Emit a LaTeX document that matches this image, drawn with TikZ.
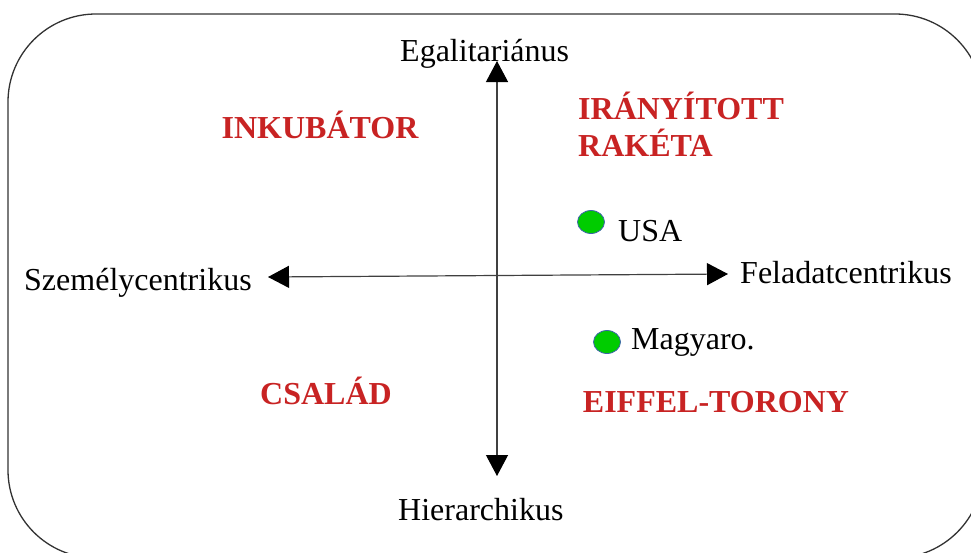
\documentclass[tikz,border=0pt]{standalone}
\usepackage{fontspec}
\setmainfont{Liberation Serif}
\usetikzlibrary{arrows.meta,shapes.geometric}
\definecolor{quadred}{RGB}{200,35,35}
\definecolor{dotgreen}{RGB}{0,204,0}
\definecolor{dotedge}{RGB}{60,100,170}
\definecolor{frameline}{RGB}{50,50,50}
\begin{document}
\begin{tikzpicture}[x=1pt,y=-1pt,
  axislabel/.style={font=\fontsize{32}{38}\selectfont, inner sep=0pt, anchor=base west},
  quadrant/.style={font=\fontsize{32}{37}\selectfont\bfseries, text=quadred, inner sep=0pt, anchor=base},
  axisline/.style={line width=1.2pt, draw=black!75,
    {Triangle[length=21pt,width=22pt,color=black]}-{Triangle[length=21pt,width=22pt,color=black]}},
  marker/.style={ellipse, draw=dotedge, line width=0.8pt, fill=dotgreen,
    minimum width=27pt, minimum height=23pt, inner sep=0pt}]
  \useasboundingbox (0,0) rectangle (971,552);
  \clip (0,0) rectangle (971,552);

  % outer frame, running past the right and bottom edges
  \draw[frameline, line width=1.3pt, rounded corners=88pt] (8,14) rectangle (983,558);

  % axis end points
  \coordinate (north) at (497,61);
  \coordinate (south) at (497,476);
  \coordinate (west)  at (268,277);
  \coordinate (east)  at (728,274);
  \draw[axisline] (south) -- (north);
  \draw[axisline] (west) -- (east);

  % axis labels
  \node[axislabel] (egal)  at (400,61)  {Egalitariánus};
  \node[axislabel] (hier)  at (398,520) {Hierarchikus};
  \node[axislabel] (szem)  at (24,290)  {Személycentrikus};
  \node[axislabel] (felad) at (740,283) {Feladatcentrikus};

  % quadrant names (the two-line one is placed by its last baseline)
  \node[quadrant] (inkub)  at (320,138) {INKUBÁTOR};
  \node[quadrant, align=left, anchor=base west] (raketa) at (578,156) {IRÁNYÍTOTT\\RAKÉTA};
  \node[quadrant] (csalad) at (326,404) {CSALÁD};
  \node[quadrant] (eiffel) at (716,412) {EIFFEL-TORONY};

  % countries
  \node[marker] (usadot) at (591,222) {};
  \node[axislabel] (usa) at (618,241) {USA};
  \node[marker] (hudot) at (607,342) {};
  \node[axislabel] (hu) at (631,349) {Magyaro.};
\end{tikzpicture}
\end{document}
